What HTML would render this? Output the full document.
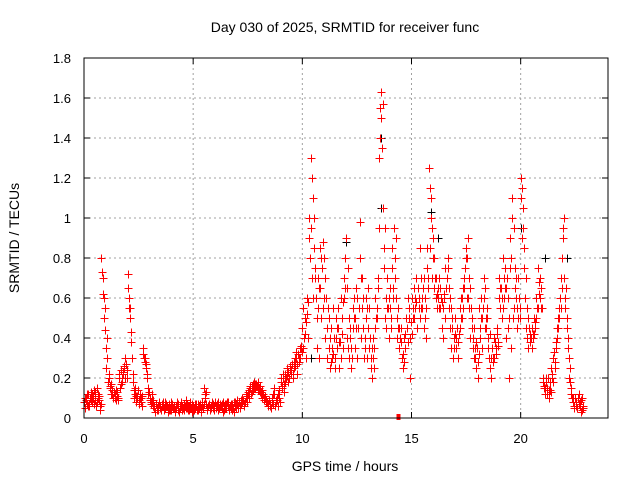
<!DOCTYPE html>
<html><head><meta charset="utf-8"><style>
body{margin:0;background:#fff}
svg{display:block;font-family:"Liberation Sans",sans-serif}
</style></head><body>
<svg id="chart" width="640" height="480">
<rect width="640" height="480" fill="#fff"/>
<text x="345" y="32" text-anchor="middle" font-size="14">Day 030 of 2025, SRMTID for receiver func</text>
<g id="grid"></g><g id="ticks"></g><g id="marks" shape-rendering="crispEdges"></g>
<rect x="84" y="58" width="524" height="360" fill="none" stroke="#000" stroke-width="1"/>
<text x="345" y="471" text-anchor="middle" font-size="14">GPS time / hours</text>
<text transform="translate(19,238) rotate(-90)" text-anchor="middle" font-size="14">SRMTID / TECUs</text>
</svg>
<script>
const xTicks=[0,5,10,15,20];
const yTicks=[0,0.2,0.4,0.6,0.8,1,1.2,1.4,1.6,1.8];
const yTickLabels=["0","0.2","0.4","0.6","0.8","1","1.2","1.4","1.6","1.8"];
const tStart=0, tStep=0.1;
const seriesA=[.08,.1,.12,.09,.1,.13,.08,.11,.8,.5,.25,.18,.15,.12,.1,.13,.2,.24,.22,.3,.72,.55,.3,.1,.08,.07,.1,.35,.3,.2,.1,.12,
.05,.07,.06,.05,.08,.05,.06,.07,.04,.06,.05,.07,.05,.06,.04,.07,.06,.05,
.06,.05,.07,.06,.08,.15,.07,.06,.05,.07,.08,.06,.05,.07,.06,.05,.08,.06,.07,.06,.09,.08,.07,.09,.1,
.12,.15,.16,.18,.17,.15,.13,.12,.1,.08,.07,
.1,.15,.08,.06,.2,.22,.18,.25,.2,.24,.28,.3,.32,.3,
.45,.5,.6,1.0,1.3,.6,.75,.7,.85,.75,.8,.6,.5,.45,.55,.3,.35,.25,.5,.6,.9,.35,.4,.55,.35,.3,.55,.4,.45,.6,.65,.4,.2,.35,.5,.95,1.63,1.05,.5,.7,.55,.85,.95,.6,.55,.45,.25,.35,.45,.55,.6,.65,.7,.65,.85,.55,.6,.75,1.25,1.1,.9,.6,.65,.55,.45,.6,.65,.55,.35,.3,.5,.45,.55,.5,.65,.85,.6,.4,.35,.3,.35,.55,.6,.7,.5,.35,.25,.35,.4,.45,.7,.65,.8,.75,.6,.9,1.1,.55,.6,.7,1.2,1.05,.6,.4,.45,.35,.5,.6,.75,.6,.2,.12,.15,.1,.25,.3,.35,.45,.6,.8,.7,.5,.3,.15,.08,.1,.05,.08,.1];
const seriesB=[.05,.07,.06,.08,.14,.06,.1,.04,.62,.44,.3,.2,.12,.1,.14,.09,.15,.18,.26,.2,.6,.43,.22,.12,.1,.12,.06,.3,.25,.15,.08,.06,
.03,.04,.08,.06,.04,.07,.03,.05,.06,.04,.08,.03,.06,.05,.09,.04,.05,.03,
.04,.07,.05,.03,.05,.1,.04,.05,.07,.04,.05,.04,.07,.03,.05,.08,.04,.05,.03,.07,.05,.06,.1,.06,.08,
.1,.12,.14,.15,.14,.13,.1,.09,.08,.06,.05,
.12,.06,.1,.14,.16,.13,.2,.18,.26,.22,.26,.22,.28,.36,
.55,.3,.4,.8,.7,1.0,.35,.3,.5,.55,.4,.3,.25,.3,.4,.4,.55,.6,.35,.8,.4,.3,.25,.6,.65,.45,.98,.7,.35,.3,.35,.25,.4,.6,.7,1.55,1.35,.75,.6,.4,.45,.65,.7,.4,.35,.3,.4,.5,.38,.2,.5,.55,.45,.6,.55,.45,.4,.65,.85,.7,.65,.55,.7,.6,.4,.75,.8,.45,.45,.4,.35,.3,.6,.65,.75,.6,.55,.45,.3,.25,.2,.4,.35,.45,.55,.3,.2,.3,.35,.38,.55,.6,.6,.4,.2,.35,.5,.65,.45,.5,.9,.75,.45,.35,.38,.4,.45,.55,.62,.55,.15,.18,.2,.14,.2,.28,.4,.5,.55,.95,.55,.4,.25,.1,.05,.06,.12,.03,.06];
const seriesC=[.1,.12,.07,.13,.11,.09,.12,.06,
.73,.6,.35,.22,.17,.1,.12,.11,.22,.2,.25,.27,.65,.5,.18,.15,.11,.09,.08,.32,.27,.12,.09,.08,
.06,.05,.07,.04,.06,.08,.05,.04,.07,.05,.06,.04,.08,.05,.06,.05,.04,.07,
.05,.06,.04,.07,.06,.12,.05,.07,.06,.05,.06,.08,.06,.05,.04,.07,.05,.07,.05,.08,.07,.05,.08,.07,.12,
.13,.16,.17,.17,.16,.14,.12,.1,.09,.07,.06,
.08,.12,.09,.1,.18,.2,.22,.23,.24,.27,.25,.33,.3,.35,
.35,.42,.52,.9,1.2,.85,.6,.55,.65,.88,
.7,.45,.35,.28,.32,.5,.45,.38,.42,.7,
.65,.5,.35,.45,.5,.6,.8,.55,.3,.5,
.45,.3,.3,.45,.55,1.3,1.5,.85,.45,.55,
.65,.75,.8,.5,.45,.38,.32,.42,.6,.4,
.42,.5,.58,.55,.7,.65,.5,.85,1.15,.95,
.8,.7,.6,.65,.55,.5,.7,.65,.55,.35,
.4,.38,.45,.6,.7,.8,.7,.55,.4,.35,
.28,.45,.5,.6,.45,.4,.3,.28,.38,.42,
.6,.5,.7,.65,.45,.75,1.0,.75,.55,.6,
1.1,.95,.7,.5,.42,.45,.42,.5,.68,.65,
.18,.15,.12,.18,.22,.33,.38,.5,.7,.9,
.6,.45,.2,.12,.06,.08,.1,.06,.04];
const seriesD=[.09,.06,.1,.12,.07,.15,.09,.07,
.7,.55,.4,.16,.14,.13,.09,.1,.17,.23,.2,.24,.55,.38,.14,.11,.14,.1,.11,.28,.22,.13,.07,.09,
.07,.04,.06,.07,.05,.06,.04,.08,.05,.03,.07,.06,.04,.07,.05,.06,.08,.04,
.07,.04,.06,.05,.07,.13,.06,.04,.08,.06,.07,.05,.06,.08,.07,.06,.06,.04,.08,.05,.06,.09,.09,.08,.11,
.14,.13,.15,.16,.18,.16,.14,.11,.08,.09,.05,
.07,.09,.12,.08,.15,.17,.21,.2,.22,.2,.3,.27,.35,.33,
.4,.48,.58,.95,1.1,.7,.5,.65,.8,.6,
.6,.55,.4,.35,.25,.45,.38,.3,.58,.65,
.75,.45,.3,.5,.45,.55,.7,.6,.4,.55,
.55,.35,.25,.5,.65,1.4,1.57,.95,.55,.6,
.5,.6,.9,.45,.4,.3,.28,.45,.5,.48,
.55,.6,.65,.5,.6,.7,.55,.7,1.0,.8,
.7,.62,.55,.58,.62,.65,.75,.6,.5,.42,
.45,.42,.5,.55,.8,.9,.65,.5,.45,.38,
.32,.5,.55,.65,.5,.42,.35,.3,.32,.36,
.65,.55,.65,.7,.5,.8,.95,.7,.5,.55,
1.15,.85,.55,.45,.4,.42,.48,.55,.7,.55,
.16,.2,.14,.13,.18,.25,.45,.55,.65,1.0,
.65,.35,.18,.1,.1,.05,.07,.09,.05];
const blackT=[0.2,10.4,12.0,13.6,13.6,15.9,20.0,21.1,22.1,16.2];
const blackV=[0.12,0.3,0.88,1.4,1.05,1.03,0.95,0.8,0.8,0.9];
const markerT=[14.4], markerV=[0];
const NS="http://www.w3.org/2000/svg";
const X=t=>84+t*(524/24), Y=v=>418-v*200;
function mk(tag,attrs,parent){const e=document.createElementNS(NS,tag);for(const k in attrs)e.setAttribute(k,attrs[k]);parent.appendChild(e);return e;}
const grid=document.getElementById('grid'),ticks=document.getElementById('ticks'),marks=document.getElementById('marks');
xTicks.forEach(t=>{
  if(t>0){const g=mk('line',{x1:X(t),x2:X(t),y1:58,y2:418,stroke:'#a0a0a0','stroke-dasharray':'2,3'},grid);
  
  }
  mk('line',{x1:X(t),x2:X(t),y1:418,y2:412,stroke:'#000'},ticks);
  mk('line',{x1:X(t),x2:X(t),y1:58,y2:64,stroke:'#000'},ticks);
  const l=mk('text',{x:X(t),y:443,'text-anchor':'middle','font-size':13},ticks);l.textContent=t;
  
  
});
yTicks.forEach((v,i)=>{
  if(v>0&&v<1.8){const g=mk('line',{x1:84,x2:608,y1:Y(v),y2:Y(v),stroke:'#a0a0a0','stroke-dasharray':'2,3'},grid);
  
  }
  mk('line',{x1:84,x2:90,y1:Y(v),y2:Y(v),stroke:'#000'},ticks);
  mk('line',{x1:608,x2:602,y1:Y(v),y2:Y(v),stroke:'#000'},ticks);
  const l=mk('text',{x:71,y:Y(v)+5,'text-anchor':'end','font-size':13},ticks);l.textContent=yTickLabels[i];
  
  
});
function plus(t,v,col,name){
  const x=Math.round(X(t))+0.5,y=Math.round(Y(v))+0.5;
  const p=mk('path',{d:`M${x-4},${y}h8M${x},${y-4}v8`,stroke:col,'stroke-width':1,fill:'none'},marks);
  
  
}
blackT.forEach((t,i)=>plus(t,blackV[i],'#000','black-point'));
seriesA.forEach((v,i)=>plus(tStart+i*tStep,v,'#f00','red-point'));
seriesC.forEach((v,i)=>plus(tStart+i*tStep+0.025,v,'#f00','red-point'));
seriesB.forEach((v,i)=>plus(tStart+i*tStep+0.05,v,'#f00','red-point'));
seriesD.forEach((v,i)=>plus(tStart+i*tStep+0.075,v,'#f00','red-point'));
markerT.forEach((t,i)=>{const r=mk('rect',{x:X(t)-2,y:Y(markerV[i])-4,width:4,height:6,fill:'#f00'},marks);

});
</script>
</body></html>
